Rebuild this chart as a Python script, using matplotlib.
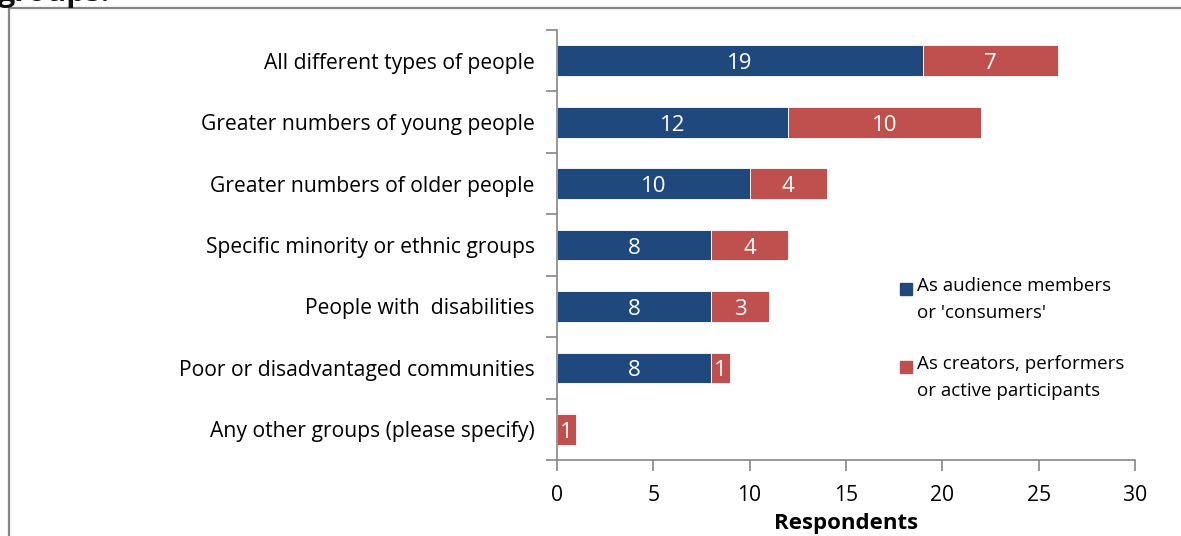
import matplotlib.pyplot as plt
from matplotlib.lines import Line2D
from matplotlib.patches import Rectangle

plt.rcParams['font.family'] = ['Open Sans', 'DejaVu Sans']

categories = [
    "All different types of people",
    "Greater numbers of young people",
    "Greater numbers of older people",
    "Specific minority or ethnic groups",
    "People with  disabilities",
    "Poor or disadvantaged communities",
    "Any other groups (please specify)",
]
audience = [19, 12, 10, 8, 8, 8, 0]
creators = [7, 10, 4, 4, 3, 1, 1]
legend_labels = ["As audience members\nor 'consumers'",
                 "As creators, performers\nor active participants"]

blue = "#1F497D"
red = "#C0504D"
grey = "#868686"

W, H = 1181, 536
fig = plt.figure(figsize=(W / 100, H / 100), dpi=100)
ax = fig.add_axes([557 / W, 1 - 460 / H, (1135 - 557) / W, (460 - 30) / H])

y = list(range(len(categories)))
b1 = ax.barh(y, audience, height=0.5, color=blue, edgecolor="white", linewidth=0.6)
b2 = ax.barh(y, creators, left=audience, height=0.5, color=red, edgecolor="white",
             linewidth=0.6)

for vals, lefts in ((audience, [0] * len(y)), (creators, audience)):
    for yi, v, l in zip(y, vals, lefts):
        if v > 0:
            ax.text(l + v / 2, yi + 0.05, str(v), ha="center", va="center",
                    color="white", fontsize=16)

ax.set_ylim(len(categories) - 0.5, -0.5)
ax.set_xlim(0, 30)
ax.set_xticks(range(0, 31, 5))
ax.set_yticks(y)
ax.set_yticklabels(categories, fontsize=15.2)
ax.set_yticks([i + 0.5 for i in range(-1, len(categories))], minor=True)
ax.tick_params(axis="y", which="major", length=0, pad=16)
ax.tick_params(axis="y", which="minor", length=8, width=1.2, color=grey, direction="out")
ax.tick_params(axis="x", length=8, width=1.2, color=grey, direction="out",
               labelsize=15.2, pad=10)
for s in ("top", "right"):
    ax.spines[s].set_visible(False)
for s in ("left", "bottom"):
    ax.spines[s].set_color(grey)
    ax.spines[s].set_linewidth(1.2)
ax.set_xlabel("Respondents", fontsize=16, fontweight="bold", labelpad=5)

# legend, square beside the first line of each entry
for i, (lab, col) in enumerate(zip(legend_labels, [blue, red])):
    ty = 1 - (289 + i * 78) / H
    fig.add_artist(Rectangle((900 / W, ty - 6 / H), 12 / W, 12 / H, color=col,
                             transform=fig.transFigure))
    fig.text(917 / W, ty + 12 / H, lab, fontsize=13.5, va="top", ha="left",
             linespacing=1.62)

# outer chart frame
fig.add_artist(Line2D([9 / W, 9 / W], [0, 1 - 8 / H], color=grey, lw=1.6))
fig.add_artist(Line2D([9 / W, 1], [1 - 8 / H, 1 - 8 / H], color=grey, lw=1.6))
fig.text(-0.002, 1 - 1 / H, "groups:", fontsize=22, fontweight="bold", va="baseline",
         color="#111111")

fig.savefig("out.png", dpi=100)
